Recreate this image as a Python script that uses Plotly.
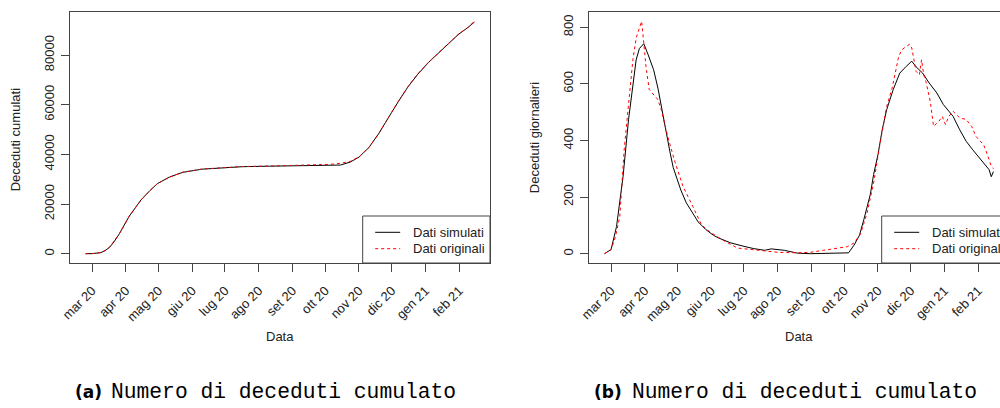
import plotly.graph_objects as go
import pandas as pd

# ---------------- data ----------------
month_ticks = ["2020-03-01", "2020-04-01", "2020-05-01", "2020-06-01", "2020-07-01", "2020-08-01",
               "2020-09-01", "2020-10-01", "2020-11-01", "2020-12-01", "2021-01-01", "2021-02-01"]
month_labels = ["mar 20", "apr 20", "mag 20", "giu 20", "lug 20", "ago 20",
                "set 20", "ott 20", "nov 20", "dic 20", "gen 21", "feb 21"]

cum_dates = ["2020-02-24", "2020-03-01", "2020-03-09", "2020-03-13", "2020-03-17", "2020-03-21",
             "2020-03-26", "2020-03-30", "2020-04-04", "2020-04-10", "2020-04-15", "2020-04-23",
             "2020-04-30", "2020-05-11", "2020-05-23", "2020-06-10", "2020-07-02", "2020-07-17",
             "2020-08-11", "2020-09-01", "2020-09-20", "2020-10-06", "2020-10-15", "2020-10-24",
             "2020-11-01", "2020-11-05", "2020-11-10", "2020-11-19", "2020-11-28", "2020-12-07",
             "2020-12-16", "2020-12-25", "2021-01-04", "2021-01-13", "2021-01-22", "2021-01-31",
             "2021-02-09", "2021-02-15"]
cum_sim = [0, 30, 420, 1250, 2550, 4700, 8000, 11050, 15050, 18700, 21700, 25400,
           28250, 30850, 32750, 34050, 34750, 35050, 35250, 35350, 35400, 35450, 35700, 36900,
           38900, 40600, 42700, 48300, 54900, 61200, 67200, 72300, 77100, 80800, 84400, 88200,
           91100, 93300]
cum_orig = [7, 34, 460, 1300, 2600, 4800, 8000, 11000, 15000, 18600, 21600, 25300,
            28200, 30800, 32800, 34100, 34800, 35100, 35300, 35500, 35700, 36000, 36400, 37200,
            39000, 40700, 42700, 48200, 54800, 61300, 67300, 72400, 77200, 80900, 84500, 88300,
            91200, 93600]

sim_dates = ["2020-02-24", "2020-03-01", "2020-03-06", "2020-03-12", "2020-03-17", "2020-03-20",
             "2020-03-24", "2020-03-27", "2020-03-31", "2020-04-04", "2020-04-09", "2020-04-13",
             "2020-04-17", "2020-04-21", "2020-04-24", "2020-04-27", "2020-05-04", "2020-05-09",
             "2020-05-15", "2020-05-20", "2020-05-27", "2020-06-03", "2020-06-08", "2020-06-12",
             "2020-06-19", "2020-07-01", "2020-07-10", "2020-07-20", "2020-07-26", "2020-08-07",
             "2020-08-19", "2020-08-31", "2020-09-22", "2020-10-05", "2020-10-10", "2020-10-15",
             "2020-10-19", "2020-10-22", "2020-10-25", "2020-10-28", "2020-11-01", "2020-11-05",
             "2020-11-09", "2020-11-15", "2020-11-21", "2020-11-27", "2020-12-02", "2020-12-06",
             "2020-12-12", "2020-12-18", "2020-12-25", "2020-12-31", "2021-01-09", "2021-01-15",
             "2021-01-21", "2021-01-27", "2021-02-02", "2021-02-08", "2021-02-11", "2021-02-13",
             "2021-02-15"]
daily_sim = [0, 15, 96, 273, 473, 568, 685, 725, 742, 703, 650, 585,
             500, 410, 360, 305, 225, 180, 144, 112, 85, 65, 55, 49,
             38, 26, 18, 12, 17, 12, 2, 0, 2, 3, 30, 65,
             120, 165, 210, 280, 350, 440, 509, 580, 638, 662, 680, 660,
             638, 603, 568, 527, 485, 438, 397, 367, 338, 309, 297, 272,
             290]

orig_dates = ["2020-02-24", "2020-03-01", "2020-03-05", "2020-03-09", "2020-03-13", "2020-03-18",
              "2020-03-21", "2020-03-24", "2020-03-27", "2020-03-29", "2020-03-31", "2020-04-02",
              "2020-04-05", "2020-04-08", "2020-04-10", "2020-04-13", "2020-04-16", "2020-04-22",
              "2020-04-28", "2020-05-06", "2020-05-15", "2020-05-23", "2020-05-30", "2020-06-11",
              "2020-06-25", "2020-07-13", "2020-08-01", "2020-08-19", "2020-08-31", "2020-09-12",
              "2020-09-25", "2020-10-04", "2020-10-10", "2020-10-16", "2020-10-22", "2020-10-28",
              "2020-11-03", "2020-11-09", "2020-11-14", "2020-11-17", "2020-11-20", "2020-11-23",
              "2020-11-27", "2020-11-30", "2020-12-02", "2020-12-04", "2020-12-06", "2020-12-09",
              "2020-12-11", "2020-12-13", "2020-12-15", "2020-12-19", "2020-12-22", "2020-12-27",
              "2020-12-30", "2021-01-02", "2021-01-05", "2021-01-09", "2021-01-15", "2021-01-21",
              "2021-01-26", "2021-01-30", "2021-02-06", "2021-02-10", "2021-02-13", "2021-02-15"]
daily_orig = [0, 14, 60, 132, 367, 568, 685, 762, 803, 821, 745, 662,
              580, 565, 556, 544, 509, 414, 332, 238, 167, 102, 79, 49,
              20, 12, 5, 3, 5, 12, 20, 25, 38, 70, 144, 250,
              391, 520, 585, 644, 697, 721, 733, 740, 727, 685, 644, 632,
              685, 632, 609, 538, 450, 468, 485, 456, 485, 503, 480, 474,
              450, 414, 385, 344, 309, 300]

legend_labels = ["Dati simulati", "Dati originali"]
y_titles = ["Deceduti cumulati", "Deceduti giornalieri"]
x_title = "Data"
caption_tags = ["(a)", "(b)"]
caption_text = "Numero di deceduti cumulato"

# ---------------- geometry (pixels) ----------------
W, H = 1000, 408
LBOX = (70, 490)
RBOX = (589, 1009)
BOXY = (12, 263)
FONT = "Liberation Sans, Arial, sans-serif"
AX = "#444444"
TXT = "#222222"


def fx(x):
    return x / W


def fy(y):
    return 1 - y / H


def r_range(vals):
    lo, hi = min(vals), max(vals)
    pad = (hi - lo) * 0.04
    return lo - pad, hi + pad


def date_range(dates):
    t = pd.to_datetime(pd.Series(dates))
    lo, hi = t.min(), t.max()
    pad = (hi - lo) * 0.04
    return lo - pad, hi + pad


fig = go.Figure()
fig.add_trace(go.Scatter(x=cum_dates, y=cum_sim, mode="lines", line=dict(color="black", width=1),
                         xaxis="x", yaxis="y", showlegend=False))
fig.add_trace(go.Scatter(x=cum_dates, y=cum_orig, mode="lines",
                         line=dict(color="red", width=1, dash="3px,3px"),
                         xaxis="x", yaxis="y", showlegend=False))
fig.add_trace(go.Scatter(x=sim_dates, y=daily_sim, mode="lines", line=dict(color="black", width=1),
                         xaxis="x2", yaxis="y2", showlegend=False))
fig.add_trace(go.Scatter(x=orig_dates, y=daily_orig, mode="lines",
                         line=dict(color="red", width=1, dash="3px,3px"),
                         xaxis="x2", yaxis="y2", showlegend=False))

lx0, lx1 = date_range(cum_dates)
rx0, rx1 = date_range(sim_dates + orig_dates)
frac = float(W - RBOX[0]) / float(RBOX[1] - RBOX[0])
rx1c = rx0 + pd.Timedelta(seconds=(rx1 - rx0).total_seconds() * frac)
ly = r_range(cum_sim + cum_orig)
ry = r_range(daily_sim + daily_orig)

common_x = dict(type="date", tickmode="array", tickvals=month_ticks, ticktext=month_labels,
                tickangle=-45, ticks="outside", ticklen=8, tickcolor=AX, tickwidth=1,
                showline=True, linecolor=AX, linewidth=1, mirror=True, showgrid=False,
                zeroline=False, tickfont=dict(family=FONT, size=13, color=TXT),
                ticklabelstandoff=6)
common_y = dict(ticks="outside", ticklen=8, tickcolor=AX, tickwidth=1, tickangle=-90,
                showline=True, linecolor=AX, linewidth=1, showgrid=False, zeroline=False,
                tickfont=dict(family=FONT, size=13, color=TXT), ticklabelstandoff=2)

ydom = [fy(BOXY[1]), fy(BOXY[0])]
fig.update_layout(
    width=W, height=H, margin=dict(l=0, r=0, t=0, b=0, autoexpand=False),
    paper_bgcolor="white", plot_bgcolor="white", showlegend=False,
    xaxis=dict(common_x, domain=[fx(LBOX[0]), fx(LBOX[1])], anchor="y",
               range=[str(lx0), str(lx1)]),
    yaxis=dict(common_y, domain=ydom, anchor="x", range=list(ly), mirror=True,
               tickmode="array", tickvals=[0, 20000, 40000, 60000, 80000],
               ticktext=["0", "20000", "40000", "60000", "80000"]),
    xaxis2=dict(common_x, domain=[fx(RBOX[0]), 1.0], anchor="y2",
                range=[str(rx0), str(rx1c)]),
    yaxis2=dict(common_y, domain=ydom, anchor="x2", range=list(ry), mirror=False,
                tickmode="array", tickvals=[0, 200, 400, 600, 800],
                ticktext=["0", "200", "400", "600", "800"]),
)

shapes = []
annotations = []
for i, (bx0, bx1) in enumerate([(362.7, 490), (881.7, 1012)]):
    shapes.append(dict(type="rect", xref="paper", yref="paper", x0=fx(bx0), x1=fx(bx1),
                       y0=fy(263), y1=fy(216), line=dict(color=AX, width=1),
                       fillcolor="white", layer="above"))
    sx0 = bx0 + 12.5
    sx1 = sx0 + 25
    shapes.append(dict(type="line", xref="paper", yref="paper", x0=fx(sx0), x1=fx(sx1),
                       y0=fy(232.3), y1=fy(232.3), line=dict(color="black", width=1)))
    shapes.append(dict(type="line", xref="paper", yref="paper", x0=fx(sx0), x1=fx(sx1),
                       y0=fy(248.7), y1=fy(248.7), line=dict(color="red", width=1, dash="3px,3px")))
    for lab, yy in zip(legend_labels, [232.3, 248.7]):
        annotations.append(dict(text=lab, xref="paper", yref="paper", x=fx(bx0 + 48.3), y=fy(yy),
                                xanchor="left", yanchor="middle", showarrow=False,
                                font=dict(family=FONT, size=13, color=TXT)))

# axis titles
for xc in [280, 798.7]:
    annotations.append(dict(text=x_title, xref="paper", yref="paper", x=fx(xc), y=fy(336.7),
                            xanchor="center", yanchor="middle", showarrow=False,
                            font=dict(family=FONT, size=13, color=TXT)))
for t, xc, yc in zip(y_titles, [15.3, 534.2], [140, 138]):
    annotations.append(dict(text=t, xref="paper", yref="paper", x=fx(xc), y=fy(yc),
                            xanchor="center", yanchor="middle", textangle=-90, showarrow=False,
                            font=dict(family=FONT, size=13, color=TXT)))

# captions
for tag, tx, cx in zip(caption_tags, [73, 591.7], [109, 630]):
    annotations.append(dict(text="<b>" + tag + "</b>", xref="paper", yref="paper", x=fx(tx),
                            y=fy(391.7), xanchor="left", yanchor="middle", showarrow=False,
                            font=dict(family="DejaVu Sans", size=17, color="#000000")))
    annotations.append(dict(text=caption_text, xref="paper", yref="paper", x=fx(cx),
                            y=fy(392), xanchor="left", yanchor="middle", showarrow=False,
                            font=dict(family="Liberation Mono", size=21.3, color="#000000")))

fig.update_layout(shapes=shapes, annotations=annotations)
fig.write_html("out.html")
